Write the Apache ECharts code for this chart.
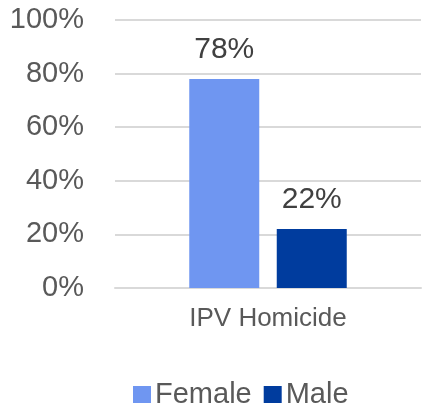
<!DOCTYPE html>
<html><head><meta charset="utf-8">
<script src="https://cdn.jsdelivr.net/npm/echarts@6/dist/echarts.min.js"></script>
<style>html,body{margin:0;padding:0;background:#fff}#c{width:422px;height:408px}</style>
</head><body><div id="c"></div>
<script>
const categories = ['IPV Homicide'];
const femaleValues = [78];
const maleValues = [22];
const seriesNames = ['Female', 'Male'];
const yTicks = [0, 20, 40, 60, 80, 100];

const FONT = '"Liberation Sans", Arial, sans-serif';
const chart = echarts.init(document.getElementById('c'), null, {renderer: 'canvas'});
chart.setOption({
  animation: false,
  grid: {left: 115, right: 1, top: 20, bottom: 120, containLabel: false},
  xAxis: {
    type: 'category', data: categories,
    axisLine: {show: true, lineStyle: {color: '#d9d9d9', width: 2}},
    axisTick: {show: false},
    axisLabel: {color: '#595959', fontSize: 26, fontFamily: FONT, margin: 18}
  },
  yAxis: {
    type: 'value', min: yTicks[0], max: yTicks[yTicks.length - 1], interval: 20,
    axisLine: {show: false}, axisTick: {show: false},
    splitLine: {lineStyle: {color: '#d9d9d9', width: 2}},
    axisLabel: {color: '#595959', fontSize: 29, fontFamily: FONT, margin: 31, formatter: v => v + '%'}
  },
  legend: {
    top: 380, left: 133, padding: 0, itemWidth: 18, itemHeight: 17, itemGap: 12,
    icon: 'rect',
    textStyle: {color: '#595959', fontSize: 29, fontFamily: FONT, padding: [0, 0, 0, -1]},
    data: seriesNames
  },
  series: [
    {name: seriesNames[0], type: 'bar', data: femaleValues, barWidth: 70, barGap: '25%',
     itemStyle: {color: '#6F96F1'},
     label: {show: true, position: 'top', distance: 14, color: '#404040', fontSize: 30, fontFamily: FONT, formatter: p => p.value + '%'}},
    {name: seriesNames[1], type: 'bar', data: maleValues, barWidth: 70,
     itemStyle: {color: '#003C9E'},
     label: {show: true, position: 'top', distance: 14, color: '#404040', fontSize: 30, fontFamily: FONT, formatter: p => p.value + '%'}}
  ]
});
</script></body></html>
